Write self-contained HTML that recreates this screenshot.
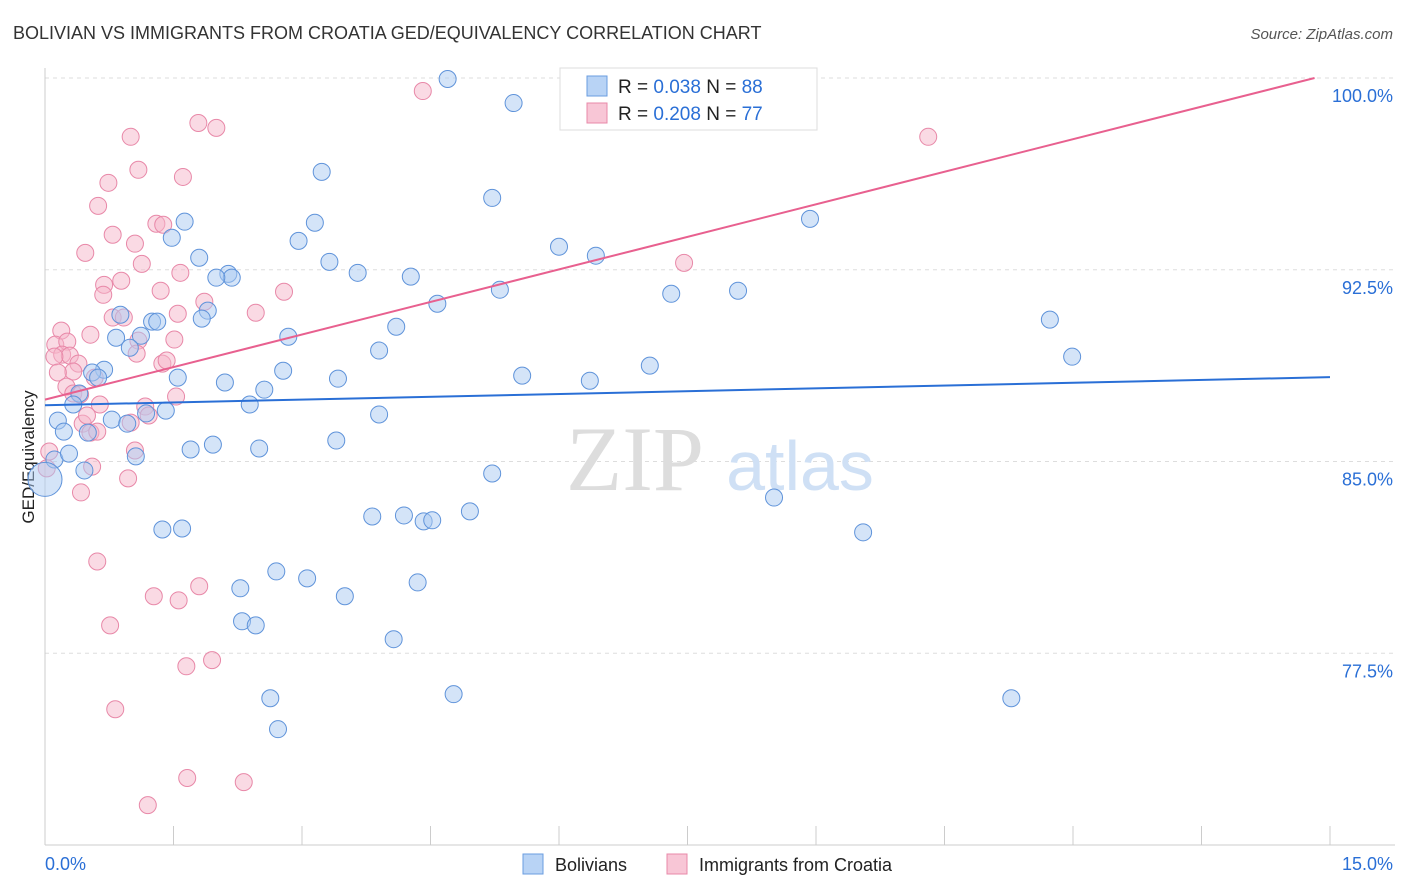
<!DOCTYPE html>
<html><head><meta charset="utf-8">
<style>
body{margin:0;background:#fff;font-family:"Liberation Sans",sans-serif;}
svg{display:block}
</style></head>
<body>
<svg id="chart" width="1406" height="892" xmlns="http://www.w3.org/2000/svg">
<text x="13" y="39" font-size="18" fill="#333">BOLIVIAN VS IMMIGRANTS FROM CROATIA GED/EQUIVALENCY CORRELATION CHART</text>
<text x="1393" y="39" font-size="15" fill="#555" font-style="italic" text-anchor="end">Source: ZipAtlas.com</text>
<text x="0" y="0" font-size="17" fill="#222" transform="translate(34,457) rotate(-90)" text-anchor="middle">GED/Equivalency</text>
<g id="grid"></g>
<g id="wm">
<text x="635" y="490" font-size="92" fill="#ddd" font-family="Liberation Serif,serif" text-anchor="middle">ZIP</text>
<text x="800" y="490" font-size="70" fill="#cfe0f5" text-anchor="middle">atlas</text>
</g>
<g id="axes"></g>
<g id="pts"></g>
<g id="lines"></g>
<g>
<rect x="560" y="68" width="257" height="62" fill="#fff" stroke="#ddd"/>
<rect x="587" y="76" width="20" height="20" fill="#b8d3f5" stroke="#6a9de0"/>
<rect x="587" y="103" width="20" height="20" fill="#f8c6d6" stroke="#e888a8"/>
<text x="618" y="93" font-size="19" fill="#222">R = <tspan fill="#2a6fd6">0.038</tspan>   N = <tspan fill="#2a6fd6">88</tspan></text>
<text x="618" y="120" font-size="19" fill="#222">R = <tspan fill="#2a6fd6">0.208</tspan>   N = <tspan fill="#2a6fd6">77</tspan></text>
</g>
<g>
<rect x="523" y="854" width="20" height="20" fill="#b8d3f5" stroke="#6a9de0"/>
<text x="555" y="871" font-size="18" fill="#222">Bolivians</text>
<rect x="667" y="854" width="20" height="20" fill="#f8c6d6" stroke="#e888a8"/>
<text x="699" y="871" font-size="18" fill="#222">Immigrants from Croatia</text>
</g>
</svg>
<script>
const yTicks=[100,92.5,85,77.5];
const yTickLabels=["100.0%","92.5%","85.0%","77.5%"];
const xTickLabels=["0.0%","15.0%"];
const blueX=[4.70,5.47,3.23,5.22,1.63,3.15,1.48,2.96,6.00,6.43,1.80,3.32,3.65,2.14,2.18,2.00,4.27,5.31,7.31,8.09,8.93,4.58,1.90,1.83,0.88,1.25,1.31,4.10,2.84,0.83,1.12,0.99,3.90,11.73,11.99,7.06,2.78,0.69,0.55,0.62,1.55,3.42,5.57,6.36,2.10,2.56,0.40,0.33,2.39,1.41,1.18,3.90,0.78,0.96,0.15,0.22,0.50,3.40,1.96,1.70,2.50,1.06,0.11,0.28,0.46,5.22,8.51,3.82,4.19,4.42,4.52,4.96,1.37,1.60,9.55,2.70,3.06,2.28,4.35,3.50,2.30,2.46,4.07,4.77,2.63,11.28,2.72,0.00];
const blueY=[99.96,99.02,96.33,95.31,94.38,94.34,93.75,93.63,93.40,93.05,92.97,92.81,92.38,92.34,92.19,92.19,92.23,91.72,91.56,91.68,94.49,91.17,90.90,90.59,90.74,90.47,90.47,90.27,89.88,89.84,89.92,89.45,89.34,90.55,89.10,88.75,88.55,88.59,88.48,88.28,88.28,88.24,88.36,88.16,88.09,87.81,87.66,87.23,87.23,86.99,86.88,86.84,86.64,86.48,86.60,86.17,86.13,85.82,85.66,85.47,85.51,85.20,85.08,85.31,84.65,84.53,83.59,82.85,82.89,82.66,82.70,83.05,82.34,82.38,82.23,80.70,80.43,80.04,80.27,79.73,78.75,78.59,78.05,75.90,75.74,75.74,74.53,84.30];
const pinkX=[4.41,10.31,1.79,2.00,1.00,1.09,1.61,0.74,0.62,1.30,1.38,0.79,1.05,0.47,1.13,7.46,1.58,0.89,0.69,0.68,1.35,2.79,1.86,2.46,1.55,0.79,0.92,0.19,0.53,1.51,1.09,1.07,0.12,0.26,0.20,0.29,0.11,0.39,1.37,1.42,0.33,0.15,0.58,0.25,0.33,0.41,1.53,0.64,1.17,1.21,1.00,0.44,0.49,0.53,0.61,1.05,0.05,0.55,0.02,0.42,0.97,0.61,1.80,1.27,1.56,0.76,1.95,1.65,0.82,1.66,2.32,1.20];
const pinkY=[99.49,97.70,98.24,98.05,97.70,96.41,96.13,95.90,95.00,94.30,94.26,93.87,93.52,93.16,92.73,92.77,92.38,92.07,91.91,91.52,91.68,91.64,91.25,90.82,90.78,90.63,90.63,90.12,89.96,89.77,89.73,89.22,89.57,89.69,89.18,89.14,89.10,88.83,88.83,88.95,88.52,88.48,88.28,87.93,87.66,87.62,87.54,87.23,87.15,86.80,86.52,86.48,86.80,86.13,86.17,85.43,85.39,84.80,84.73,83.79,84.34,81.09,80.12,79.73,79.57,78.59,77.23,76.99,75.31,72.62,72.46,71.56];
const blueTrend=[87.2,88.3];   // y at x=0, x=15
const pinkTrend=[87.42,100.0]; // y at x=0, x=14.82
const pinkTrendEndX=14.82;

const NS="http://www.w3.org/2000/svg";
const X0=45,X1=1330,Y0=845,Y1=78;
const sx=v=>X0+(v-0)/15*(X1-X0);
const sy=v=>Y0-(v-70)/30*(Y0-Y1);
function mk(tag,attrs,parent){const e=document.createElementNS(NS,tag);for(const k in attrs)e.setAttribute(k,attrs[k]);parent.appendChild(e);return e;}
const grid=document.getElementById('grid'),axes=document.getElementById('axes'),pts=document.getElementById('pts'),lines=document.getElementById('lines');
yTicks.forEach((t,i)=>{
  const l=mk('line',{x1:X0,x2:1395,y1:sy(t),y2:sy(t),stroke:'#ddd','stroke-dasharray':'4 4'},grid);
  
  
  const tx=mk('text',{x:1393,y:sy(t)+24,'font-size':18,fill:'#2a6fd6','text-anchor':'end'},axes);
  tx.textContent=yTickLabels[i];
  
  
});
mk('line',{x1:X0,x2:X0,y1:68,y2:Y0,stroke:'#ccc'},axes);
mk('line',{x1:X0,x2:1395,y1:Y0,y2:Y0,stroke:'#ccc'},axes);
for(let i=0;i<=10;i++){const x=sx(i*1.5);const t=mk('line',{x1:x,x2:x,y1:826,y2:Y0,stroke:'#ccc'},axes);
  
  }
const xl0=mk('text',{x:45,y:870,'font-size':18,fill:'#2a6fd6'},axes);xl0.textContent=xTickLabels[0];


const xl1=mk('text',{x:1393,y:870,'font-size':18,fill:'#2a6fd6','text-anchor':'end'},axes);xl1.textContent=xTickLabels[1];


function dots(xs,ys,fill,stroke,name){xs.forEach((x,i)=>{const big=(name==='bolivian-point'&&x===0);
  const c=mk('circle',{cx:sx(x),cy:sy(ys[i]),r:big?17:8.5,fill:fill,'fill-opacity':0.5,stroke:stroke,'stroke-width':1},pts);
  
  });}
dots(pinkX,pinkY,'#f6b5ca','#e888a8','croatia-point');
dots(blueX,blueY,'#a9c9f1','#5f93da','bolivian-point');
const bl=mk('line',{x1:sx(0),y1:sy(blueTrend[0]),x2:sx(15),y2:sy(blueTrend[1]),stroke:'#2a6fd6','stroke-width':2},lines);


const pl=mk('line',{x1:sx(0),y1:sy(pinkTrend[0]),x2:sx(pinkTrendEndX),y2:sy(pinkTrend[1]),stroke:'#e8608f','stroke-width':2},lines);


</script>
</body></html>
